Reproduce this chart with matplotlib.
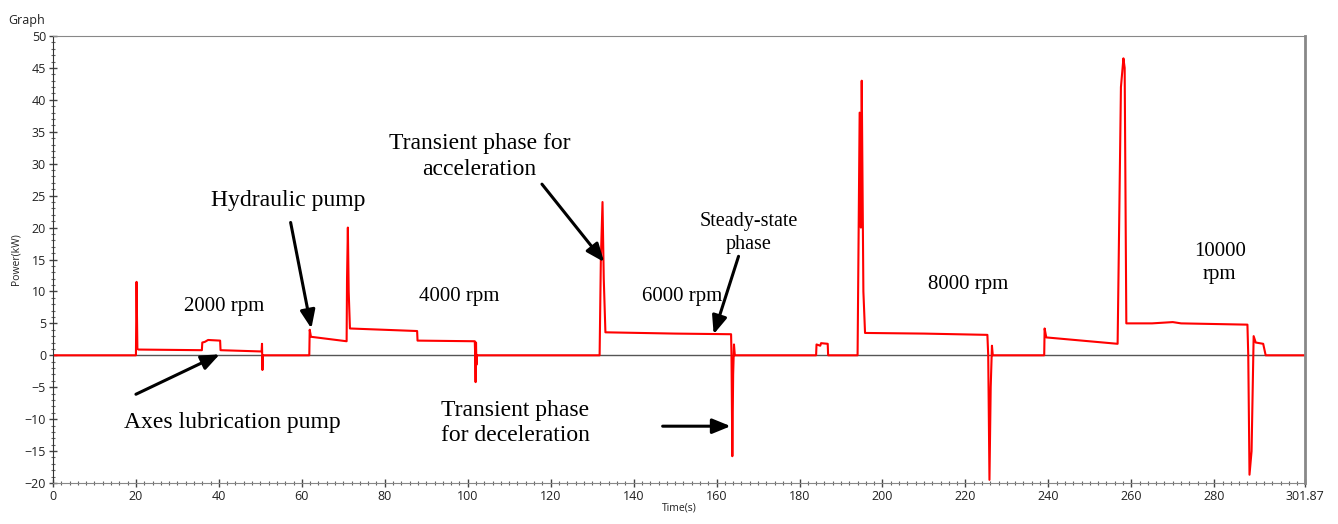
import matplotlib.pyplot as plt
from matplotlib.ticker import MultipleLocator

# power trace (time in s, power in kW)
time_s = [0, 20.0, 20.15, 20.35, 20.6, 35.9, 36.0, 36.6, 37.4, 40.3, 40.4, 50.3, 50.4, 50.5, 50.6,
          61.8, 61.9, 62.2, 70.8, 70.9, 71.1, 71.3, 71.6, 87.8, 87.9, 101.7, 101.8, 101.9, 102.0,
          102.1, 102.2, 131.8, 132.1, 132.5, 132.8, 133.2, 150.0, 163.5, 163.6, 163.8, 164.0,
          164.2, 164.4, 184.0, 184.1, 185.0, 185.2, 186.8, 186.9, 194.0, 194.5, 194.8, 195.0,
          195.4, 195.8, 210.0, 225.3, 225.5, 225.8, 226.1, 226.4, 226.6, 239.0, 239.1, 239.5,
          256.7, 257.5, 258.1, 258.4, 258.8, 265.0, 270.0, 272.0, 288.0, 288.2, 288.5, 289.0,
          289.5, 290.0, 291.8, 292.4, 301.87]
power_kw = [0, 0, 11.5, 1.0, 0.9, 0.8, 2.0, 2.1, 2.4, 2.3, 0.8, 0.6, 1.8, -2.3, 0,
            0, 4.0, 2.9, 2.2, 12, 20, 10, 4.2, 3.8, 2.3, 2.2, 0, -4.2, 2.0,
            -1.5, 0, 0, 15, 24, 12, 3.6, 3.4, 3.3, 0, -15.8, -3,
            1.7, 0, 0, 1.7, 1.5, 1.9, 1.8, 0, 0, 38, 20, 43,
            10, 3.5, 3.4, 3.2, 0, -19.5, -5, 1.5, 0, 0, 4.2, 2.8,
            1.8, 42, 46.5, 45, 5.0, 5.0, 5.2, 5.0, 4.8, 0, -18.7, -15,
            3.0, 2.0, 1.8, 0, 0]

x_ticks = [0, 20, 40, 60, 80, 100, 120, 140, 160, 180, 200, 220, 240, 260, 280, 301.87]
x_tick_labels = ['0', '20', '40', '60', '80', '100', '120', '140', '160', '180', '200',
                 '220', '240', '260', '280', '301.87']

labels = ['2000 rpm', 'Hydraulic pump', '4000 rpm', 'Transient phase for\nacceleration',
          'Steady-state\nphase', '6000 rpm', '8000 rpm', '10000\nrpm',
          'Transient phase\nfor deceleration', 'Axes lubrication pump']
label_x = [41.2, 56.6, 98.0, 102.8, 167.8, 151.6, 220.7, 281.3, 111.4, 43.3]
label_y = [7.7, 24.3, 9.2, 31.1, 19.2, 9.2, 11.1, 14.5, -10.6, -10.5]
label_size = [15, 17, 15, 17, 14.5, 15, 15, 15, 17, 17]

# arrows: (tail x, tail y, head x, head y)
arrows = [(57.3, 20.8, 62.3, 4.2),
          (20.0, -6.1, 40.2, 0.15),
          (117.9, 26.8, 132.9, 14.6),
          (165.3, 15.5, 159.3, 3.3),
          (147.0, -11.1, 163.4, -11.1)]

fig = plt.figure(figsize=(13.38, 5.24), dpi=100)
ax = fig.add_axes([0.0396, 0.0782, 0.9357, 0.8531])

ax.axhline(0, color='#555555', lw=1.0, zorder=1)
ax.plot(time_s, power_kw, color='#ff0000', lw=1.5, zorder=2)

ax.set_xlim(0, 301.87)
ax.set_ylim(-20, 50)
ax.set_xticks(x_ticks)
ax.set_xticklabels(x_tick_labels)
ax.yaxis.set_major_locator(MultipleLocator(5))
ax.yaxis.set_minor_locator(MultipleLocator(1))
ax.xaxis.set_minor_locator(MultipleLocator(2))
ax.tick_params(which='major', direction='inout', length=6, width=1, colors='#444444',
               labelsize=9, labelcolor='#222222', pad=2)
ax.tick_params(which='minor', direction='inout', length=3, width=0.8, colors='#666666')
for lbl in ax.get_xticklabels() + ax.get_yticklabels():
    lbl.set_family('Open Sans')

ax.spines['left'].set_color('#333333')
ax.spines['bottom'].set_color('#888888')
ax.spines['top'].set_color('#888888')
ax.spines['right'].set_color('#888888')
ax.spines['right'].set_linestyle((0, (1, 1)))
ax.spines['right'].set_linewidth(2)

ax.set_xlabel('Time(s)', fontsize=7.5, family='Open Sans', labelpad=0, color='#222222')
ax.set_ylabel('Power(kW)', fontsize=7.5, family='Open Sans', labelpad=2, color='#222222')
fig.text(0.006, 0.955, 'Graph', fontsize=9, family='Open Sans', color='#222222')

for txt, tx, ty, fs in zip(labels, label_x, label_y, label_size):
    ax.text(tx, ty, txt, ha='center', va='center', fontsize=fs,
            family='Liberation Serif', linespacing=1.3, zorder=3)

for x0, y0, x1, y1 in arrows:
    ax.annotate('', xy=(x1, y1), xytext=(x0, y0),
                arrowprops=dict(arrowstyle='-|>,head_length=1.1,head_width=0.45',
                                color='black', lw=2.2, shrinkA=0, shrinkB=0))

plt.savefig('out.png', dpi=100)
